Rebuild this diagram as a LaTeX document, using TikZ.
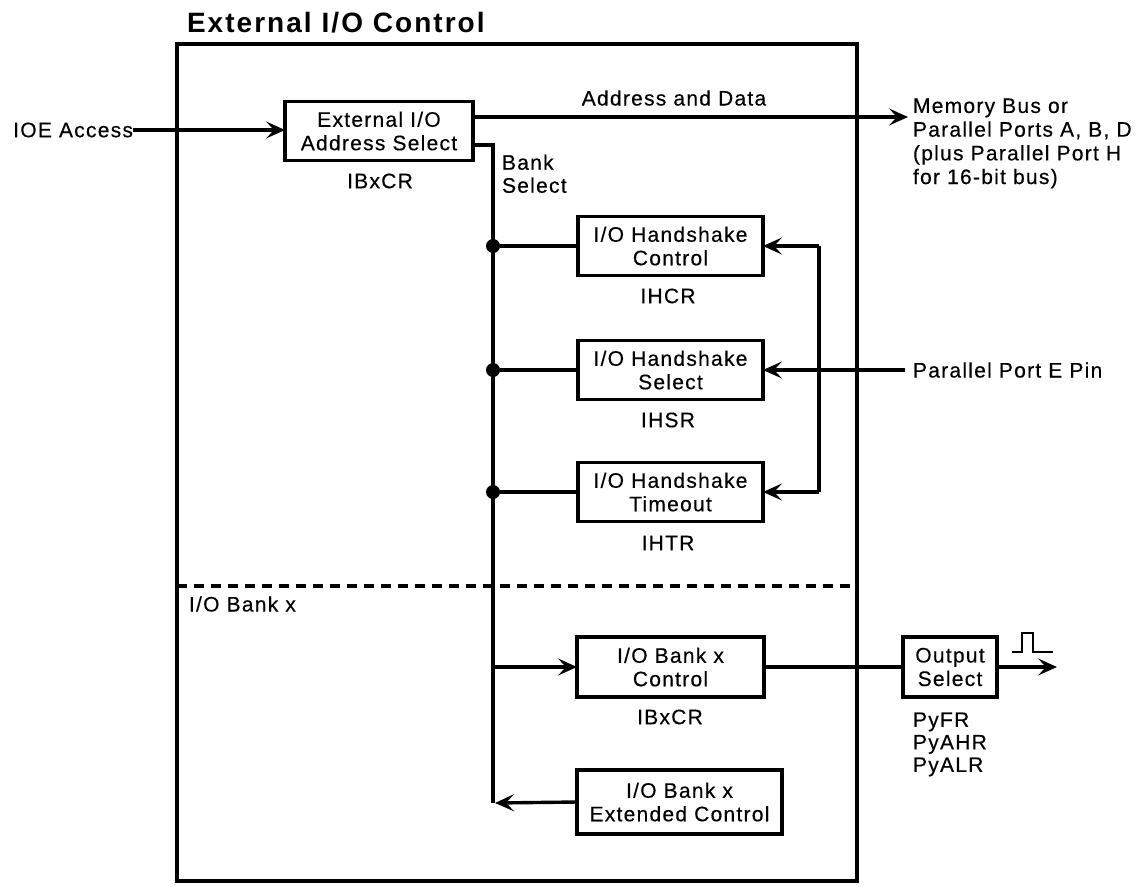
\documentclass[tikz,border=0pt]{standalone}
\usepackage{fontspec}
\setmainfont{Liberation Sans}[LetterSpace=6, FakeBold=0.35]
\newfontfamily\titlefont{Liberation Sans}[LetterSpace=7.3]
\usetikzlibrary{arrows.meta}
\begin{document}
\begin{tikzpicture}[x=1pt,y=-1pt,
  every node/.style={font=\fontsize{21}{23.5}\selectfont, inner sep=0pt, outer sep=0pt},
  box/.style={draw, line width=3.4pt, align=center, minimum height=59pt},
  conn/.style={line width=3.4pt},
  arr/.style={conn, -{Stealth[length=19pt,width=17pt,inset=8pt]}},
  dot/.style={circle, fill, minimum size=14pt, inner sep=0pt},
  multi/.style={align=left, anchor=north west},
]
\useasboundingbox (0,0) rectangle (1148,886);
% frame and title
\node[anchor=base west, font=\titlefont\fontsize{28}{32}\selectfont\bfseries] (title) at (187,32.7) {External I/O Control};
\draw[conn] (177,44) rectangle (857,881);
\draw[conn, dash pattern=on 10pt off 7pt] (177,586) -- (857,586);
\node[anchor=west] (bank) at (189,604) {I/O Bank x};

% address select
\node[box, minimum width=188pt] (addr) at (379,131) {External I/O\\Address Select};
\node (ibx1) at (380,181) {IBxCR};
\node[anchor=east] (ioe) at (133,130) {IOE Access};
\draw[arr] (ioe.east) -- (ioe.east -| addr.west);
\node (ad) at (674,98) {Address and Data};
\coordinate (memtip) at (908,117);
\draw[arr] (addr.east |- memtip) -- (memtip);
\node[multi, font=\fontsize{21}{23.7}\selectfont] (mem) at (913,98.5) {Memory Bus or\\Parallel Ports A, B, D\\(plus Parallel Port H\\for 16-bit bus)};

% bank select bus
\coordinate (bustop) at (493,145);
\coordinate (busbot) at (493,803);
\draw[conn] (addr.east |- bustop) -- (bustop) -- (busbot);
\node[multi, font=\fontsize{21}{23}\selectfont] (bs) at (502,154.5) {Bank\\Select};

% handshake boxes
\node[box, minimum width=185pt] (hsc) at (670.5,246) {I/O Handshake\\Control};
\node[box, minimum width=185pt] (hss) at (670.5,370) {I/O Handshake\\Select};
\node[box, minimum width=185pt] (hst) at (670.5,492) {I/O Handshake\\Timeout};
\node (ihcr) at (668,296) {IHCR};
\node (ihsr) at (668,420) {IHSR};
\node (ihtr) at (668,543) {IHTR};

\node[dot] (d1) at (bustop |- hsc) {};
\node[dot] (d2) at (bustop |- hss) {};
\node[dot] (d3) at (bustop |- hst) {};
\draw[conn] (d1) -- (hsc.west);
\draw[conn] (d2) -- (hss.west);
\draw[conn] (d3) -- (hst.west);

\coordinate (rb1) at (819,246);
\coordinate (rb3) at (819,492);
\draw[conn] (rb1) -- (rb3);
\draw[arr] (rb1) -- (hsc.east);
\draw[arr] (rb3) -- (hst.east);
\node[anchor=west, inner xsep=8pt] (pe) at (905,370) {Parallel Port E Pin};
\draw[arr] (pe.west) -- (hss.east);

% bank x
\node[box, minimum width=187pt, minimum height=60pt] (bkc) at (670.5,667) {I/O Bank x\\Control};
\node (ibx2) at (670,717) {IBxCR};
\draw[arr] (bustop |- bkc) -- (bkc.west);
\node[box, minimum width=94pt, minimum height=60pt] (out) at (950,667) {Output\\Select};
\draw[conn] (bkc.east) -- (out.west);
\coordinate (outtip) at (1057,667);
\draw[arr] (out.east) -- (outtip);
\draw[line width=2.8pt] (1012,652) -- (1022,652) -- (1022,633) -- (1033,633) -- (1033,652) -- (1053,652);
\node[multi, font=\fontsize{21}{22.5}\selectfont] (py) at (913,712.5) {PyFR\\PyAHR\\PyALR};

\node[box, minimum width=205pt, minimum height=64pt] (ext) at (679.5,802) {I/O Bank x\\Extended Control};
\draw[arr] (ext.west) -- ([xshift=2pt]busbot);
\end{tikzpicture}
\end{document}
